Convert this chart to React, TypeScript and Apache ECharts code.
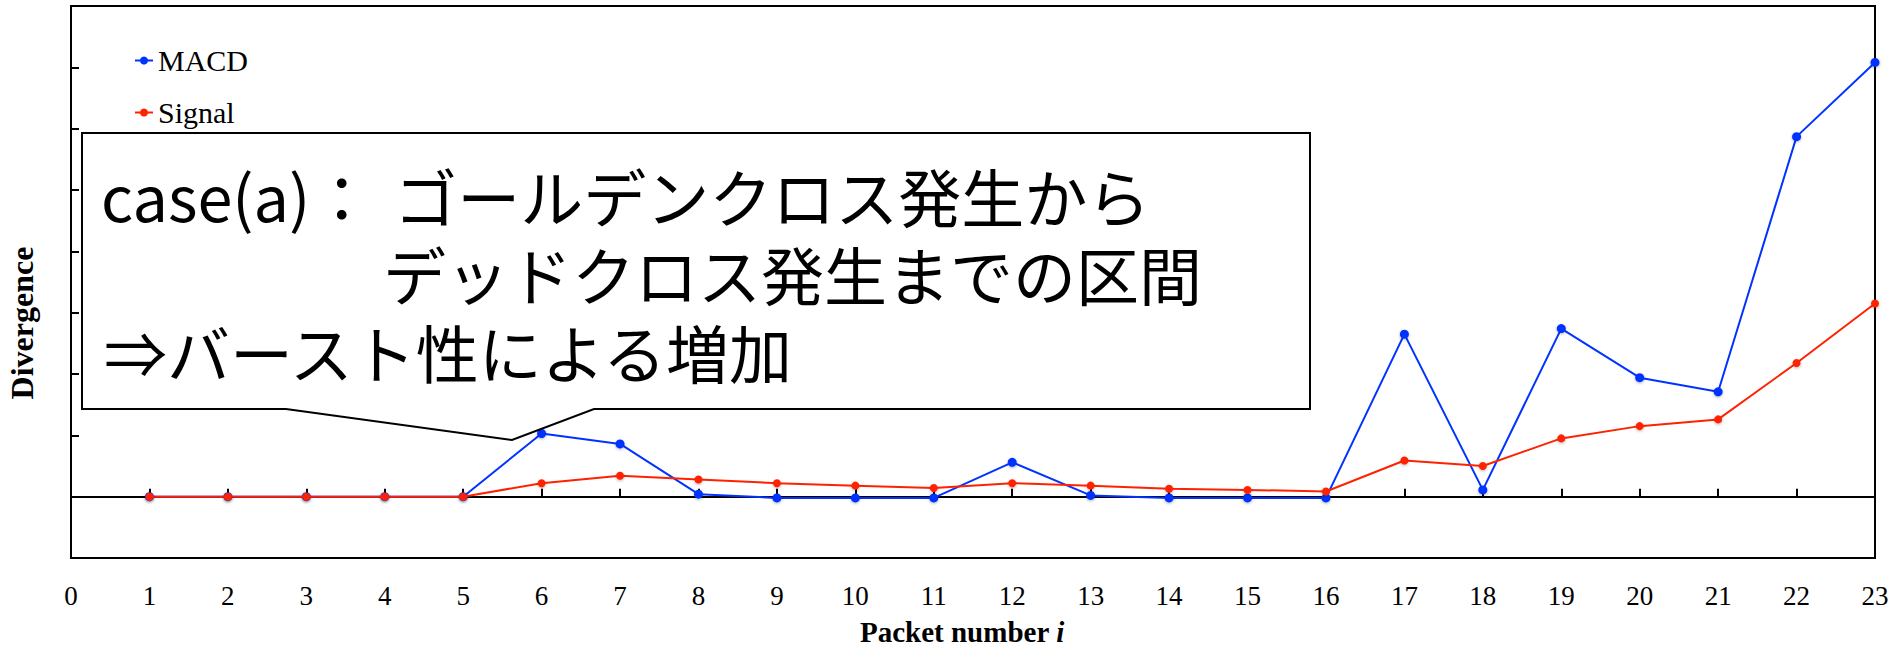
import { useEffect, useRef } from "react";
import * as echarts from "echarts";

// Packet index along the horizontal axis
const packetNumbers = [1, 2, 3, 4, 5, 6, 7, 8, 9, 10, 11, 12, 13, 14, 15, 16, 17, 18, 19, 20, 21, 22, 23];

// MACD divergence per packet
const macdValues = [0, 0, 0, 0, 0, 1.03, 0.86, 0.04, -0.02, -0.02, -0.02, 0.56, 0.02, -0.02, -0.02, -0.02, 2.65, 0.11, 2.74, 1.94, 1.71, 5.87, 7.08];

// Signal line per packet
const signalValues = [0, 0, 0, 0, 0, 0.22, 0.34, 0.28, 0.22, 0.18, 0.14, 0.22, 0.18, 0.13, 0.11, 0.085, 0.59, 0.5, 0.95, 1.15, 1.26, 2.18, 3.15];

const seriesNames = ["MACD", "Signal"];

// Callout text (a three-per-em space follows the colon on the first line)
const calloutLines = [
  "case(a)：\u2004ゴールデンクロス発生から",
  "デッドクロス発生までの区間",
  "⇒バースト性による増加",
];

const SERIF = "'Times New Roman', 'Liberation Serif', 'DejaVu Serif', serif";
const GOTHIC = "'Noto Sans CJK JP', 'Noto Sans', 'DejaVu Sans', sans-serif";
const MACD_COLOR = "#0033ff";
const SIGNAL_COLOR = "#ff2200";
const CALLOUT_FONT = 63;

export default function App() {
  const ref = useRef<HTMLDivElement>(null);

  useEffect(() => {
    if (!ref.current) return;
    const chart = echarts.init(ref.current, null, { renderer: "svg" });
    const toPairs = (vals: number[]) => packetNumbers.map((p, i) => [p, vals[i]]);

    const dotShadow = {
      shadowBlur: 3,
      shadowColor: "rgba(0,0,0,0.3)",
      shadowOffsetY: 1,
    };

    const calloutText = (text: string, x: number, y: number) => ({
      type: "text",
      z: 51,
      x,
      y,
      style: { text, fontFamily: GOTHIC, fontSize: CALLOUT_FONT, fill: "#000", verticalAlign: "middle" },
    });

    chart.setOption({
      animation: false,
      backgroundColor: "#ffffff",
      grid: {
        left: 71,
        right: 16,
        top: 6,
        bottom: 92,
        outerBoundsMode: "none",
        show: true,
        borderColor: "#000",
        borderWidth: 2,
        backgroundColor: "transparent",
      },
      legend: {
        orient: "vertical",
        left: 134,
        top: 45,
        padding: 0,
        itemWidth: 18,
        itemHeight: 10,
        itemGap: 21,
        data: seriesNames,
        textStyle: { fontFamily: SERIF, fontSize: 30, color: "#000", lineHeight: 31 },
      },
      xAxis: [
        {
          // bottom axis: tick labels and title only
          type: "value",
          position: "bottom",
          min: 0,
          max: 23,
          interval: 1,
          axisLine: { show: false, onZero: false },
          axisTick: { show: false },
          splitLine: { show: false },
          axisLabel: { fontFamily: SERIF, fontSize: 27, color: "#000", margin: 24 },
          name: "{b|Packet number }{i|i}",
          nameLocation: "middle",
          nameGap: 59,
          nameTextStyle: {
            padding: [0, 22, 0, 0],
            rich: {
              b: { fontFamily: SERIF, fontWeight: "bold", fontSize: 29, color: "#000" },
              i: { fontFamily: SERIF, fontWeight: "bold", fontStyle: "italic", fontSize: 29, color: "#000" },
            },
          },
        },
        {
          // zero line with upward ticks
          type: "value",
          position: "bottom",
          min: 0,
          max: 23,
          interval: 1,
          axisLine: { show: true, onZero: true, lineStyle: { color: "#000", width: 2 } },
          axisTick: { show: true, inside: true, length: 8, lineStyle: { color: "#000", width: 2 } },
          axisLabel: { show: false },
          splitLine: { show: false },
        },
      ],
      yAxis: {
        type: "value",
        min: -1,
        max: 8,
        interval: 1,
        axisLine: { show: true, onZero: false, lineStyle: { color: "#000", width: 2 } },
        axisTick: { show: true, inside: true, length: 8, lineStyle: { color: "#000", width: 2 } },
        axisLabel: { show: false },
        splitLine: { show: false },
      },
      series: [
        {
          name: seriesNames[0],
          type: "line",
          xAxisIndex: 0,
          data: toPairs(macdValues),
          symbol: "circle",
          symbolSize: 9,
          clip: false,
          color: MACD_COLOR,
          lineStyle: { color: MACD_COLOR, width: 2 },
          itemStyle: { color: MACD_COLOR, ...dotShadow },
          z: 3,
        },
        {
          name: seriesNames[1],
          type: "line",
          xAxisIndex: 0,
          data: toPairs(signalValues),
          symbol: "circle",
          symbolSize: 8,
          clip: false,
          color: SIGNAL_COLOR,
          lineStyle: { color: SIGNAL_COLOR, width: 2 },
          itemStyle: { color: SIGNAL_COLOR, ...dotShadow },
          z: 4,
        },
      ],
      graphic: [
        {
          type: "text",
          x: 22,
          y: 323,
          rotation: Math.PI / 2,
          style: {
            text: "Divergence",
            fontFamily: SERIF,
            fontWeight: "bold",
            fontSize: 32,
            fill: "#000",
            align: "center",
            verticalAlign: "middle",
          },
        },
        {
          type: "polygon",
          z: 50,
          shape: {
            points: [
              [82, 133],
              [1310, 133],
              [1310, 409],
              [594, 409],
              [512, 440],
              [286, 409],
              [82, 409],
            ],
          },
          style: { fill: "#ffffff", stroke: "#000", lineWidth: 2 },
        },
        calloutText(calloutLines[0], 101, 194),
        calloutText(calloutLines[1], 383, 272),
        calloutText(calloutLines[2], 104, 350),
      ],
    });

    return () => chart.dispose();
  }, []);

  return (
    <div
      ref={ref}
      style={{ position: "fixed", left: 0, top: 0, width: 1891, height: 650 }}
    />
  );
}
